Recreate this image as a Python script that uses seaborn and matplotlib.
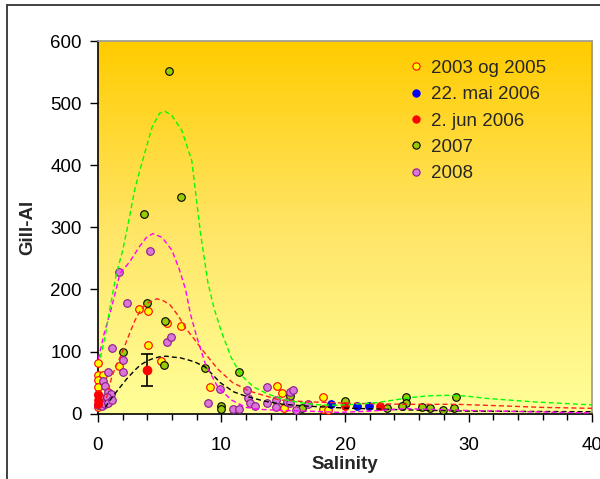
import numpy as np
import pandas as pd
import matplotlib
matplotlib.use("Agg")
import matplotlib.pyplot as plt
from matplotlib.colors import LinearSegmentedColormap
from matplotlib.lines import Line2D
import seaborn as sns

# ---------------- data ----------------
s0305_x = [3.31, 4.07, 6.73, 5.6, 4.07, 5.14, 1.7, 0.0, 0.0, 0.45, 0.0, 0.0, 0.0, 0.0,
           9.08, 14.5, 14.9, 18.24, 18.24, 18.6, 15.1]
s0305_y = [168, 165, 141, 146, 110, 85, 77, 81, 63, 63, 54, 43, 32, 11,
           43, 44, 34, 27, 7, 6, 9.5]

mai06_x = [18.9, 20.94, 21.95]
mai06_y = [15, 12.5, 12.5]

jun06_x = [0.0, 0.0, 0.05, 20.0, 22.8]
jun06_y = [30, 22, 15, 12.5, 12.5]

mean_x = [4.0]
mean_y = [70]
mean_err = [26]

s2007_x = [5.76, 3.74, 6.77, 3.95, 5.47, 2.02, 5.36, 8.7, 11.45, 10.0, 10.0, 15.55, 16.5,
           20.0, 23.36, 24.9, 24.9, 24.6, 26.24, 26.9, 27.94, 28.8, 29.0]
s2007_y = [552, 321, 349, 179, 149, 100, 78, 74, 67, 13, 8, 28, 8.5,
           21, 8.5, 26, 17.5, 12, 10, 8.5, 6, 8.5, 26]

s2008_x = [1.7, 4.2, 2.34, 5.6, 5.9, 1.17, 2.02, 2.02, 0.83, 0.4, 0.62, 0.86, 1.05, 0.19,
           0.73, 0.05, 0.32, 0.6, 0.86, 1.13, 8.92, 9.86, 10.96, 11.4, 12.05, 12.15, 12.35,
           12.7, 13.66, 13.66, 14.4, 14.4, 15.3, 15.55, 15.8, 15.55, 16.0, 17.0]
s2008_y = [228, 262, 179, 115, 123, 106, 87, 67, 67, 53, 45, 35, 31, 27,
           27, 14, 13, 15, 17.5, 22, 16.5, 40, 7.5, 7.5, 38, 25.6, 17,
           12.2, 16.5, 42.5, 22, 11, 19, 35, 38, 16.5, 6, 15]

# fitted curves
green_x = [0.2, 0.6, 1.0, 1.5, 2.0, 2.4, 3.0, 3.4, 3.8, 4.4, 5.0, 5.45, 6.0, 6.8, 7.6, 8.3,
           8.9, 9.4, 10.0, 10.8, 11.6, 12.6, 13.7, 15.0, 16.6, 18.0, 19.3, 20.7, 22.5,
           25.0, 26.6, 28.2, 29.8, 31.4, 35.2, 40.0]
green_y = [90, 125, 172, 225, 262, 300, 362, 392, 420, 462, 484, 487, 480, 456, 408, 292,
           212, 170, 132, 90, 62, 43, 32, 23, 17, 14, 13.5, 15, 17.5,
           25, 28.5, 29.5, 28.3, 24.6, 19, 14]

magenta_x = [0.05, 0.5, 1.1, 1.8, 2.6, 3.4, 3.9, 4.45, 5.2, 6.0, 6.6, 7.1, 7.5, 8.0, 8.7,
             9.7, 10.8, 12.0, 13.0, 15.0, 17.0, 19.5, 22.0, 25.0, 30.0, 35.0, 40.0]
magenta_y = [88, 128, 170, 226, 245, 270, 283, 290, 284, 263, 232, 200, 160, 124, 80,
             43, 22, 10, 7, 5, 4, 2, 4, 8, 5, 3, 1]

red_x = [0.7, 1.13, 1.5, 1.9, 2.45, 3.0, 3.5, 4.0, 4.77, 5.3, 5.85, 6.5, 7.1, 7.8, 8.4,
         9.7, 10.9, 12.3, 14.7, 17.0, 20.0, 22.0, 25.0, 29.0, 32.0, 36.0, 40.0]
red_y = [25, 59, 78, 95, 123, 150, 168, 178, 185, 182, 175, 158, 138, 120, 104,
         72, 50, 36, 22, 19, 17, 16, 15, 15, 13, 10, 8.5]

black_x = [0.6, 1.0, 1.54, 2.34, 3.0, 3.42, 4.0, 4.5, 5.0, 5.58, 6.1, 6.65, 7.4, 7.87, 8.7,
           9.9, 11.0, 12.0, 13.5, 15.0, 17.0, 20.0, 25.0, 30.0, 40.0]
black_y = [10, 22, 36, 56, 70, 78, 85, 89, 91.5, 92.5, 91, 90, 86, 83, 75,
           50, 35, 28, 20, 15, 12, 9, 6, 4, 3]

labels = ["2003 og 2005", "22. mai 2006", "2. jun 2006", "2007", "2008"]

# ---------------- style ----------------
sns.set_theme(style="white")
plt.rcParams["font.family"] = ["Liberation Sans", "DejaVu Sans"]
FS = 13.5

fig = plt.figure(figsize=(6.0, 4.79), dpi=100)
fig.patch.set_facecolor("white")
ax = fig.add_axes([0.163, 0.1365, 0.824, 0.7775])

# gradient background
cmap = LinearSegmentedColormap.from_list("bg", ["#FFFF99", "#FFE566", "#FFCC00"])
grad = np.linspace(0, 1, 256).reshape(-1, 1)
ax.imshow(grad, extent=[0, 40, 0, 600], origin="lower", aspect="auto", cmap=cmap,
          zorder=0, interpolation="bicubic")

ms = 30
lw_e = 0.8

def scat(x, y, fc, ec, z):
    df = pd.DataFrame({"x": x, "y": y})
    sns.scatterplot(data=df, x="x", y="y", ax=ax, s=ms, color=fc, edgecolor=ec,
                    linewidth=lw_e, zorder=z, legend=False, clip_on=False)

scat(s0305_x, s0305_y, "#FFFF00", "#FF0000", 3)
scat(s2007_x, s2007_y, "#99CC00", "#000000", 4)
scat(s2008_x, s2008_y, "#D877D8", "#8B1A8B", 5)
scat(mai06_x, mai06_y, "#0000FF", "#0000FF", 6)
scat(jun06_x, jun06_y, "#FF0000", "#FF0000", 6)

# mean with error bar
ax.errorbar(mean_x, mean_y, yerr=mean_err, fmt="none", ecolor="black", elinewidth=1.2,
            capsize=4.5, capthick=1.2, zorder=7)
sns.scatterplot(x=mean_x, y=mean_y, ax=ax, s=ms + 8, color="#FF0000", edgecolor="#FF0000",
                linewidth=lw_e, zorder=8, legend=False)

def curve(x, y, c):
    df = pd.DataFrame({"x": x, "y": y})
    sns.lineplot(data=df, x="x", y="y", ax=ax, color=c, linewidth=1.0,
                 estimator=None, sort=False, zorder=9, dashes=False)
    ax.lines[-1].set_dashes((3.6, 2.2))

curve(black_x, black_y, "#000000")
curve(red_x, red_y, "#FF2020")
curve(magenta_x, magenta_y, "#FF00FF")
curve(green_x, green_y, "#00FF00")

ax.set_xlim(0, 40)
ax.set_ylim(0, 600)
ax.set_xticks([0, 10, 20, 30, 40])
ax.set_xticks(np.arange(0, 41, 2), minor=True)
ax.set_yticks(np.arange(0, 601, 100))
ax.tick_params(axis="both", which="both", direction="out", colors="black",
               labelsize=FS, width=1.0)
ax.tick_params(axis="x", which="major", length=5.5, pad=11)
ax.tick_params(axis="x", which="minor", length=4.5)
ax.tick_params(axis="y", which="major", length=5.5, pad=6)
ax.tick_params(bottom=True, left=True, which="both")

for side in ["left", "bottom"]:
    ax.spines[side].set_color("black")
    ax.spines[side].set_linewidth(1.2)
for side in ["top", "right"]:
    ax.spines[side].set_color("#999999")
    ax.spines[side].set_linewidth(1.2)

ax.set_xlabel("Salinity", fontsize=FS, fontweight="bold", labelpad=2)
ax.set_ylabel("Gill-Al", fontsize=FS, fontweight="bold", labelpad=10)

# legend
handles = [
    Line2D([], [], ls="none", marker="o", ms=5.2, mfc="#FFFF00", mec="#FF0000", mew=lw_e),
    Line2D([], [], ls="none", marker="o", ms=5.2, mfc="#0000FF", mec="#0000FF", mew=lw_e),
    Line2D([], [], ls="none", marker="o", ms=5.2, mfc="#FF0000", mec="#FF0000", mew=lw_e),
    Line2D([], [], ls="none", marker="o", ms=5.2, mfc="#99CC00", mec="#000000", mew=lw_e),
    Line2D([], [], ls="none", marker="o", ms=5.2, mfc="#D877D8", mec="#8B1A8B", mew=lw_e),
]
leg = ax.legend(handles, labels, loc="upper left", bbox_to_anchor=(0.632, 0.95),
                frameon=False, fontsize=FS, handlelength=0.6, handletextpad=0.5,
                labelspacing=0.49, borderaxespad=0.0, borderpad=0.0)
leg.set_zorder(20)

# outer chart frame (top and left edges visible)
fig.add_artist(Line2D([0.012, 1.0], [0.990, 0.990], transform=fig.transFigure,
                      color="#333333", lw=1.3))
fig.add_artist(Line2D([0.012, 0.012], [0.0, 0.990], transform=fig.transFigure,
                      color="#333333", lw=1.3))

fig.savefig("out.png", dpi=100, facecolor="white")
